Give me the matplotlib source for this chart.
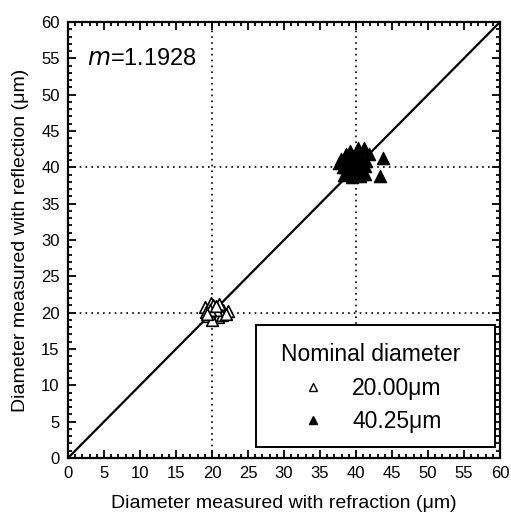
import numpy as np
import matplotlib.pyplot as plt
from matplotlib.ticker import MultipleLocator
from matplotlib.lines import Line2D
from matplotlib.patches import Rectangle

plt.rcParams['font.family'] = ['Liberation Sans', 'DejaVu Sans']

# 20.00 um particles (refraction, reflection)
x_20 = [19.0, 19.8, 20.2, 20.9, 21.5, 22.2, 19.5, 20.3, 20.8, 21.4,
        19.1, 20.0, 20.5, 21.0, 19.7, 22.0, 20.6, 19.3]
y_20 = [20.8, 21.3, 21.0, 20.5, 20.3, 20.2, 19.5, 19.8, 19.4, 19.7,
        20.1, 19.0, 20.3, 21.2, 20.4, 19.8, 20.9, 19.8]

# 40.25 um particles
x_40 = [39.2, 40.3, 41.1, 38.6, 41.8, 37.6, 37.9, 38.3, 39.5, 40.6,
        41.2, 38.8, 39.6, 40.4, 41.0, 39.0, 39.9, 40.8, 38.5, 41.4,
        39.3, 40.1, 40.7, 38.9, 39.7, 40.5, 41.3, 38.2, 39.4, 40.2,
        43.7, 43.3]
y_40 = [42.3, 42.7, 42.6, 41.9, 41.8, 40.6, 41.2, 38.9, 38.7, 38.8,
        39.1, 40.8, 41.5, 41.7, 41.2, 39.6, 40.2, 40.4, 40.0, 40.9,
        39.2, 39.4, 39.8, 39.5, 40.9, 41.0, 40.2, 40.1, 40.3, 40.7,
        41.3, 38.8]

m_value = 1.1928

fig = plt.figure(figsize=(5.11, 5.13), dpi=100)
ax = fig.add_axes([68 / 511, 55 / 513, 432 / 511, 436 / 513])

ax.plot([0, 60], [0, 60], color='black', lw=1.6, zorder=2)
ax.scatter(x_20, y_20, marker='^', s=70, facecolor='white',
           edgecolor='black', linewidths=1.2, zorder=3)
ax.scatter(x_40, y_40, marker='^', s=80, facecolor='black',
           edgecolor='black', linewidths=0.8, zorder=3)

for v in (20, 40):
    ax.axvline(v, color='black', ls=(0, (1, 2.5)), lw=1.2, zorder=1)
    ax.axhline(v, color='black', ls=(0, (1, 2.5)), lw=1.2, zorder=1)

ax.set_xlim(0, 60)
ax.set_ylim(0, 60)
for axis in (ax.xaxis, ax.yaxis):
    axis.set_major_locator(MultipleLocator(5))
    axis.set_minor_locator(MultipleLocator(1))
ax.tick_params(which='both', direction='in', top=True, right=True,
               width=1.3, labelsize=12, pad=6)
ax.tick_params(which='major', length=6)
ax.tick_params(which='minor', length=3)
for s in ax.spines.values():
    s.set_linewidth(1.6)

ax.set_xlabel('Diameter measured with refraction (\u03bcm)', fontsize=14, labelpad=10)
ax.set_ylabel('Diameter measured with reflection (\u03bcm)', fontsize=14, labelpad=9)

ax.text(2.7, 54.9, r'$m$=' + f'{m_value}', fontsize=17, va='center', ha='left',
        math_fontfamily='dejavusans')

# legend box drawn separately so it can be wider than its contents
ax.add_patch(Rectangle((0.435, 0.025), 0.553, 0.28, transform=ax.transAxes,
                       facecolor='white', edgecolor='black', lw=1.4, zorder=4))
handles = [
    Line2D([], [], ls='none', marker='^', ms=6, mfc='white', mec='black', mew=1.0),
    Line2D([], [], ls='none', marker='^', ms=6, mfc='black', mec='black'),
]
leg = ax.legend(handles, ['20.00\u03bcm', '40.25\u03bcm'], title='Nominal diameter',
                loc='upper left', bbox_to_anchor=(0.451, 0.305), fontsize=16.5,
                title_fontsize=16.5, frameon=False,
                handletextpad=0.3, borderpad=0.8, borderaxespad=0,
                labelspacing=0.45, handlelength=2.8)
leg._legend_box.align = 'left'
leg.set_zorder(5)

fig.savefig('out.png', dpi=100)
